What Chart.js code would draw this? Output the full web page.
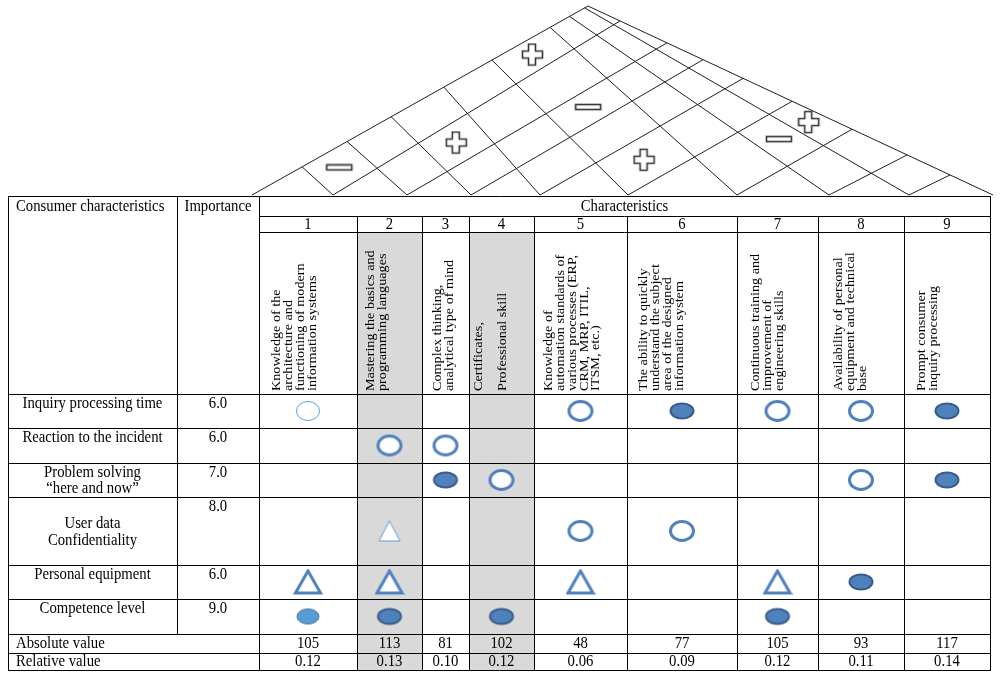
<!DOCTYPE html>
<html lang="en">
<head>
<meta charset="UTF-8">
<title>House of Quality</title>
<script src="https://cdn.jsdelivr.net/npm/chart.js"></script>
<style>
  html, body { margin: 0; padding: 0; background: #fff; }
  #wrap { width: 1000px; height: 677px; }
</style>
</head>
<body>
<div id="wrap"><canvas id="hoq" width="1000" height="677"></canvas></div>
<script>
// ---- data ----
const consumerChars = [
    ['Inquiry processing time'],
    ['Reaction to the incident'],
    ['Problem solving', '\u201Chere and now\u201D'],
    ['User data', 'Confidentiality'],
    ['Personal equipment'],
    ['Competence level']
];
const importance = ['6.0', '6.0', '7.0', '8.0', '6.0', '9.0'];
const charNumbers = ['1', '2', '3', '4', '5', '6', '7', '8', '9'];
const charNames = [
    ['Knowledge of the', 'architecture and', 'functioning of modern', 'information systems'],
    ['Mastering the basics and', 'programming languages'],
    ['Complex thinking,', 'analytical type of mind'],
    ['Certificates,', '', 'Professional skill'],
    ['Knowledge of', 'automation standards of', 'various processes (ERP,', 'CRM, MRP, ITIL,', 'ITSM, etc.)'],
    ['The ability to quickly', 'understand the subject', 'area of the designed', 'information system'],
    ['Continuous training and', 'improvement of', 'engineering skills'],
    ['Availability of personal', 'equipment and technical', 'base'],
    ['Prompt consumer', 'inquiry processing']
];
// 9 = strong (filled), 3 = medium (circle), 1 = weak (triangle)
const relations = [
    [3, 0, 0, 0, 3, 9, 3, 3, 9],
    [0, 3, 3, 0, 0, 0, 0, 0, 0],
    [0, 0, 9, 3, 0, 0, 0, 3, 9],
    [0, 1, 0, 0, 3, 3, 0, 0, 0],
    [1, 1, 0, 0, 1, 0, 1, 9, 0],
    [9, 9, 0, 9, 0, 0, 9, 0, 0]
];
const absoluteValues = ['105', '113', '81', '102', '48', '77', '105', '93', '117'];
const relativeValues = ['0.12', '0.13', '0.10', '0.12', '0.06', '0.09', '0.12', '0.11', '0.14'];
// roof: [characteristic i, characteristic j, sign]
const correlations = [[1, 2, '-'], [2, 4, '+'], [1, 6, '+'], [3, 6, '-'], [5, 6, '+'], [6, 8, '-'], [6, 9, '+']];
const shadedColumns = [2, 4];

// ---- layout (table geometry, in scale units = px) ----
const colEdges = [8, 177, 259, 357, 422, 469, 534, 627, 737, 818, 904, 990];
const headEdges = [196, 216, 232, 394];
const rowEdges = [394, 428, 463, 497, 565, 599, 634];
const footEdges = [634, 653, 670];
const headTextX = [277, 371, 438, 479, 549, 644, 756, 839, 922];
const headTextBottom = 391;
const headLineGap = 11.7;
const roofApex = [588, 6];
const roofBaseY = 195;
const roofBase = [252, 333, 407, 471, 540, 628, 737, 829, 909, 993];
const roofLeftFrac = [0, 0.149, 0.283, 0.414, 0.571, 0.714, 0.887, 0.945, 0.99, 1];
const roofRightFrac = [0, 0.106, 0.212, 0.348, 0.496, 0.617, 0.716, 0.805, 0.921, 1];
// odd-looking marks in the original
const markerVariant = { '0,0': 'thin', '3,1': 'thin', '5,0': 'light' };

const FONT = '16px "Liberation Serif", "Times New Roman", serif';
const FONT_ROT = '14.2px "Liberation Serif", "Times New Roman", serif';
const SQUASH = 0.92;   // the original glyphs are a bit narrow

// ---- roof geometry ----
const lerp = (p, q, t) => [p[0] + (q[0] - p[0]) * t, p[1] + (q[1] - p[1]) * t];
const B = roofBase.map(x => [x, roofBaseY]);
const leftPt = k => lerp(B[0], roofApex, roofLeftFrac[k]);
const rightPt = k => lerp(B[9], roofApex, roofRightFrac[k]);
const U = [];   // lines going up-right
const V = [];   // lines going up-left
for (let k = 0; k <= 8; k++) U[k] = k === 0 ? [B[0], roofApex] : [B[k], rightPt(9 - k)];
for (let k = 1; k <= 9; k++) V[k] = k === 9 ? [B[9], roofApex] : [B[k], leftPt(k)];

function intersect(a, b) {
    const [p1, p2] = a, [p3, p4] = b;
    const d = (p1[0] - p2[0]) * (p3[1] - p4[1]) - (p1[1] - p2[1]) * (p3[0] - p4[0]);
    const t1 = p1[0] * p2[1] - p1[1] * p2[0];
    const t2 = p3[0] * p4[1] - p3[1] * p4[0];
    return [(t1 * (p3[0] - p4[0]) - (p1[0] - p2[0]) * t2) / d,
            (t1 * (p3[1] - p4[1]) - (p1[1] - p2[1]) * t2) / d];
}
function roofCell(i, j) {
    const pts = [intersect(U[i - 1], V[j - 1]), intersect(U[i - 1], V[j]),
                 intersect(U[i], V[j - 1]), intersect(U[i], V[j])];
    return { x: pts.reduce((s, p) => s + p[0], 0) / 4, y: pts.reduce((s, p) => s + p[1], 0) / 4 };
}

// ---- marker images ----
function makeMarker(w, h, draw) {
    const c = document.createElement('canvas');
    c.width = w; c.height = h;
    draw(c.getContext('2d'), w, h);
    return c;
}
function ellipse(g, cx, cy, rx, ry, fill, stroke, lw) {
    g.beginPath();
    g.ellipse(cx, cy, rx, ry, 0, 0, Math.PI * 2);
    g.fillStyle = fill; g.fill();
    g.lineWidth = lw; g.strokeStyle = stroke; g.stroke();
}
function triangle(g, w, h, stroke, lw) {
    g.beginPath();
    g.moveTo(w / 2, 2.5); g.lineTo(w - 2.5, h - 2.5); g.lineTo(2.5, h - 2.5); g.closePath();
    g.fillStyle = '#fff'; g.fill();
    g.lineWidth = lw; g.strokeStyle = stroke; g.lineJoin = 'miter'; g.stroke();
}
const markers = {
    strong: makeMarker(28, 20, g => ellipse(g, 14, 10, 11.5, 7.5, '#4f81bd', '#385d8a', 2)),
    strong_light: makeMarker(28, 20, g => ellipse(g, 14, 10, 11, 7.5, '#5b9bd5', '#41719c', 1)),
    medium: makeMarker(30, 26, g => ellipse(g, 15, 13, 11.5, 9.5, '#fff', '#4f81bd', 3)),
    medium_thin: makeMarker(30, 26, g => ellipse(g, 15, 13, 11.5, 9.5, '#fff', '#5b9bd5', 1)),
    weak: makeMarker(30, 27, (g, w, h) => triangle(g, w, h, '#4f81bd', 3)),
    weak_thin: makeMarker(26, 25, (g, w, h) => triangle(g, w, h, '#5b9bd5', 1)),
    plus: makeMarker(24, 25, g => {
        g.beginPath();
        const a = 7.5, b = 14.5, l = 1.5, r = 21.5, t = 1.5, bt = 22.5, m1 = 8.5, m2 = 15.5;
        g.moveTo(a, t); g.lineTo(b, t); g.lineTo(b, m1); g.lineTo(r, m1); g.lineTo(r, m2);
        g.lineTo(b, m2); g.lineTo(b, bt); g.lineTo(a, bt); g.lineTo(a, m2); g.lineTo(l, m2);
        g.lineTo(l, m1); g.lineTo(a, m1); g.closePath();
        g.fillStyle = '#fff'; g.fill();
        g.lineWidth = 1.6; g.strokeStyle = '#333'; g.stroke();
    }),
    minus: makeMarker(29, 9, g => {
        g.fillStyle = '#fff'; g.fillRect(1.5, 1.5, 25, 5);
        g.lineWidth = 1.6; g.strokeStyle = '#333'; g.strokeRect(1.5, 1.5, 25, 5);
    })
};

// ---- datasets built from the arrays ----
const colCenter = c => (colEdges[c + 2] + colEdges[c + 3]) / 2;
const rowCenter = r => (rowEdges[r] + rowEdges[r + 1]) / 2;
function relationPoints(level) {
    const pts = [];
    relations.forEach((row, r) => row.forEach((v, c) => {
        if (v === level) pts.push({ x: colCenter(c), y: rowCenter(r), key: r + ',' + c });
    }));
    return pts;
}
function markerStyle(base) {
    return ctx => {
        const raw = ctx.raw;
        const v = raw && markerVariant[raw.key];
        return v && markers[base + '_' + v] ? markers[base + '_' + v] : markers[base];
    };
}
const roofPoints = sign => correlations.filter(c => c[2] === sign).map(c => roofCell(c[0], c[1]));

// ---- table drawing plugin ----
const tablePlugin = {
    id: 'hoqTable',
    beforeDatasetsDraw(chart) {
        const g = chart.ctx;
        const sx = chart.scales.x, sy = chart.scales.y;
        const px = v => sx.getPixelForValue(v);
        const py = v => sy.getPixelForValue(v);
        const cx = v => Math.round(px(v)) + 0.5;
        const cy = v => Math.round(py(v)) + 0.5;
        g.save();

        // shaded columns
        g.fillStyle = '#d9d9d9';
        shadedColumns.forEach(n => {
            const x0 = px(colEdges[n + 1]), x1 = px(colEdges[n + 2]);
            g.fillRect(x0, py(headEdges[2]), x1 - x0, py(footEdges[2]) - py(headEdges[2]));
        });

        // roof
        g.strokeStyle = '#1e1e1e';
        g.lineWidth = 1;
        const seg = (p, q) => { g.beginPath(); g.moveTo(px(p[0]), py(p[1])); g.lineTo(px(q[0]), py(q[1])); g.stroke(); };
        U.forEach(l => l && seg(l[0], l[1]));
        V.forEach(l => l && seg(l[0], l[1]));

        // grid
        g.strokeStyle = '#000';
        const hline = (y, x0, x1) => { g.beginPath(); g.moveTo(px(x0), cy(y)); g.lineTo(px(x1), cy(y)); g.stroke(); };
        const vline = (x, y0, y1) => { g.beginPath(); g.moveTo(cx(x), py(y0)); g.lineTo(cx(x), py(y1)); g.stroke(); };
        const L = colEdges[0], R = colEdges[colEdges.length - 1];
        hline(headEdges[0], L, R + 1);
        hline(headEdges[1], colEdges[2], R);
        hline(headEdges[2], colEdges[2], R);
        rowEdges.forEach(y => hline(y, L, R));
        footEdges.forEach(y => hline(y, L, R + 1));
        vline(colEdges[0], headEdges[0], footEdges[2]);
        vline(colEdges[1], headEdges[0], rowEdges[rowEdges.length - 1]);
        vline(colEdges[2], headEdges[0], footEdges[2]);
        for (let k = 3; k < colEdges.length - 1; k++) vline(colEdges[k], headEdges[1], footEdges[2]);
        vline(R, headEdges[0], footEdges[2]);

        // texts
        g.fillStyle = '#000';
        g.textBaseline = 'middle';
        const text = (t, x, y, align) => {
            g.save();
            g.font = FONT;
            g.textAlign = align || 'center';
            g.translate(px(x), py(y));
            g.scale(SQUASH, 1);
            g.fillText(t, 0, 0);
            g.restore();
        };
        const L0 = colEdges[0];
        text('Consumer characteristics', L0 + 8, 207, 'left');
        text('Importance', (colEdges[1] + colEdges[2]) / 2, 207);
        text('Characteristics', (colEdges[2] + R) / 2, 207);
        charNumbers.forEach((n, c) => text(n, colCenter(c), 225));

        // rotated characteristic names
        charNames.forEach((lines, c) => {
            lines.forEach((t, k) => {
                g.save();
                g.font = FONT_ROT;
                g.textAlign = 'left';
                g.translate(px(headTextX[c] + k * headLineGap), py(headTextBottom));
                g.scale(SQUASH, 1);
                g.rotate(-Math.PI / 2);
                g.fillText(t, 0, 0);
                g.restore();
            });
        });

        // consumer characteristics + importance
        const labelX = (colEdges[0] + colEdges[1]) / 2;
        const impX = (colEdges[1] + colEdges[2]) / 2;
        consumerChars.forEach((lines, r) => {
            const top = rowEdges[r], h = rowEdges[r + 1] - top;
            let y0, gap;
            if (h > 50) { gap = 17; y0 = top + h / 2 - (lines.length - 1) * gap / 2 + 1.5; }
            else { gap = 16; y0 = top + 10; }
            lines.forEach((t, k) => text(t, labelX, y0 + k * gap));
            text(importance[r], impX, top + 10);
        });

        // absolute / relative values
        const yAbs = footEdges[0] + 10, yRel = footEdges[1] + 9;
        text('Absolute value', L0 + 8, yAbs, 'left');
        text('Relative value', L0 + 8, yRel, 'left');
        absoluteValues.forEach((v, c) => text(v, colCenter(c), yAbs));
        relativeValues.forEach((v, c) => text(v, colCenter(c), yRel));

        g.restore();
    }
};

new Chart(document.getElementById('hoq'), {
    type: 'scatter',
    data: {
        datasets: [
            { label: 'Strong (9)', data: relationPoints(9), pointStyle: markerStyle('strong') },
            { label: 'Medium (3)', data: relationPoints(3), pointStyle: markerStyle('medium') },
            { label: 'Weak (1)', data: relationPoints(1), pointStyle: markerStyle('weak') },
            { label: 'Positive', data: roofPoints('+'), pointStyle: markers.plus },
            { label: 'Negative', data: roofPoints('-'), pointStyle: markers.minus }
        ]
    },
    options: {
        responsive: false,
        animation: false,
        events: [],
        layout: { padding: 0, autoPadding: false },
        elements: { point: { radius: 5 } },
        scales: {
            x: { type: 'linear', min: 0, max: 1000, display: false },
            y: { type: 'linear', min: 0, max: 677, reverse: true, display: false }
        },
        plugins: { legend: { display: false }, tooltip: { enabled: false } }
    },
    plugins: [tablePlugin]
});
</script>
</body>
</html>
